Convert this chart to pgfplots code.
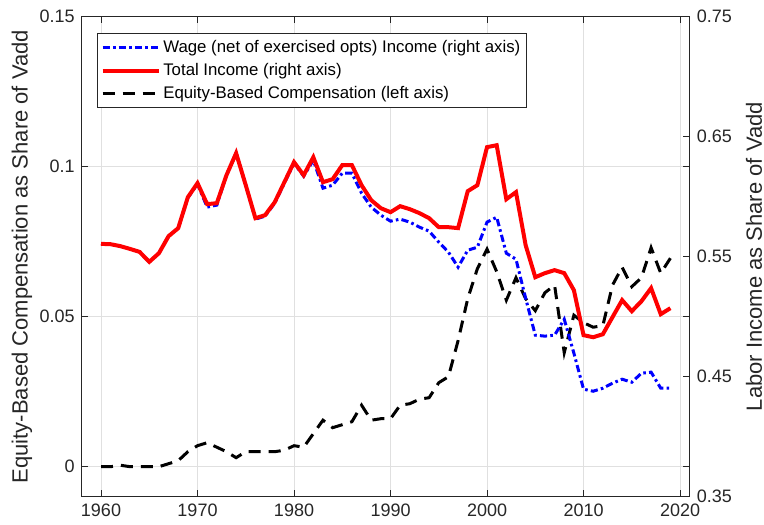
\documentclass[border=0pt]{standalone}
\usepackage{pgfplots}
\pgfplotsset{compat=1.18}
\usepackage{pgfplotstable}
\usepackage{fontspec}
\setmainfont{Liberation Sans}
\definecolor{axgray}{rgb}{0.15,0.15,0.15}
\definecolor{gridgray}{rgb}{0.88,0.88,0.88}

\pgfplotstableread{
year wage total equity
1960 0.5607 0.5607 0.0000
1961 0.5604 0.5604 0.0000
1962 0.5588 0.5588 0.0005
1963 0.5565 0.5565 0.0000
1964 0.5540 0.5540 0.0000
1965 0.5457 0.5457 0.0000
1966 0.5529 0.5529 0.0000
1967 0.5671 0.5671 0.0010
1968 0.5738 0.5738 0.0020
1969 0.5990 0.5996 0.0050
1970 0.6105 0.6113 0.0070
1971 0.5913 0.5938 0.0080
1972 0.5930 0.5946 0.0065
1973 0.6179 0.6179 0.0050
1974 0.6363 0.6363 0.0030
1975 0.6096 0.6096 0.0050
1976 0.5813 0.5821 0.0050
1977 0.5838 0.5846 0.0050
1978 0.5946 0.5954 0.0050
1979 0.6113 0.6121 0.0055
1980 0.6279 0.6288 0.0070
1981 0.6171 0.6179 0.0065
1982 0.6304 0.6329 0.0110
1983 0.6071 0.6121 0.0155
1984 0.6096 0.6146 0.0130
1985 0.6196 0.6263 0.0140
1986 0.6196 0.6263 0.0150
1987 0.6029 0.6096 0.0205
1988 0.5913 0.5971 0.0155
1989 0.5846 0.5904 0.0160
1990 0.5796 0.5871 0.0160
1991 0.5813 0.5921 0.0205
1992 0.5788 0.5896 0.0210
1993 0.5746 0.5863 0.0225
1994 0.5713 0.5821 0.0230
1995 0.5621 0.5746 0.0280
1996 0.5538 0.5746 0.0300
1997 0.5413 0.5738 0.0420
1998 0.5554 0.6046 0.0560
1999 0.5579 0.6096 0.0660
2000 0.5788 0.6413 0.0725
2001 0.5829 0.6429 0.0650
2002 0.5529 0.5979 0.0555
2003 0.5479 0.6038 0.0630
2004 0.5154 0.5596 0.0560
2005 0.4846 0.5329 0.0520
2006 0.4838 0.5363 0.0580
2007 0.4846 0.5388 0.0605
2008 0.4979 0.5363 0.0380
2009 0.4696 0.5221 0.0505
2010 0.4396 0.4846 0.0480
2011 0.4379 0.4829 0.0465
2012 0.4404 0.4854 0.0470
2013 0.4446 0.4996 0.0605
2014 0.4479 0.5138 0.0665
2015 0.4454 0.5046 0.0600
2016 0.4529 0.5129 0.0630
2017 0.4538 0.5238 0.0730
2018 0.4404 0.5021 0.0645
2019 0.4404 0.5071 0.0695
}\datatable

\begin{document}
\begin{tikzpicture}
\useasboundingbox (0,0) rectangle (382pt,262pt);
\begin{axis}[
  at={(40.85pt,13.65pt)}, anchor=south west,
  scale only axis, width=304pt, height=240pt,
  xmin=1958, xmax=2021, ymin=-0.01, ymax=0.15,
  xtick={1960,1970,1980,1990,2000,2010,2020},
  xticklabels={1960,1970,1980,1990,2000,2010,2020},
  ytick={0,0.05,0.1,0.15},
  yticklabels={0,0.05,0.1,0.15},
  grid=major, grid style={gridgray, line width=0.5pt},
  axis line style={axgray, line width=0.5pt},
  tick style={axgray, line width=0.5pt},
  major tick length=3.2pt, tick align=inside,
  ticklabel style={font=\fontsize{9}{10}\selectfont, text=axgray},
  /pgf/number format/assume math mode=true,
  every axis y label/.style={at={(axis description cs:-0.0985,0.5)}, rotate=90, anchor=center,
     font=\fontsize{11}{12}\selectfont, text=axgray},
  ylabel={Equity-Based Compensation as Share of Vadd},
]
\addplot[black, line width=1.5pt, dash pattern=on 6pt off 4pt] table[x=year,y=equity]{\datatable};
\end{axis}
\begin{axis}[
  at={(40.85pt,13.65pt)}, anchor=south west,
  scale only axis, width=304pt, height=240pt,
  xmin=1958, xmax=2021, ymin=0.35, ymax=0.75,
  axis x line=none, axis y line*=right,
  ytick={0.35,0.45,0.55,0.65,0.75},
  yticklabels={0.35,0.45,0.55,0.65,0.75},
  axis line style={axgray, line width=0.5pt},
  tick style={axgray, line width=0.5pt},
  major tick length=3.2pt, tick align=inside,
  ticklabel style={font=\fontsize{9}{10}\selectfont, text=axgray},
  /pgf/number format/assume math mode=true,
  every axis y label/.style={at={(axis description cs:1.1058,0.5)}, rotate=90, anchor=center,
     font=\fontsize{11}{12}\selectfont, text=axgray},
  ylabel={Labor Income as Share of Vadd},
  legend image code/.code={\draw[#1] (0pt,0pt) -- (28pt,0pt);},
  legend style={at={(0.0252,0.966)}, anchor=north west, draw=axgray, line width=0.5pt,
     fill=white, font=\fontsize{8.4}{10}\selectfont, text=black, inner sep=1.5pt,
     row sep=0pt, cells={anchor=west},
     nodes={text height=6.6pt, text depth=2pt, inner sep=1.4pt}},
  legend cell align=left,
]
\addplot[blue, line width=1.5pt, dash pattern=on 3.6pt off 1.6pt on 1.3pt off 1.6pt] table[x=year,y=wage]{\datatable};
\addlegendentry{Wage (net of exercised opts) Income (right axis)}
\addplot[red, line width=2pt] table[x=year,y=total]{\datatable};
\addlegendentry{Total Income (right axis)}
\addlegendimage{black, line width=1.5pt, dash pattern=on 6pt off 4pt}
\addlegendentry{Equity-Based Compensation (left axis)}
\end{axis}
\end{tikzpicture}
\end{document}
